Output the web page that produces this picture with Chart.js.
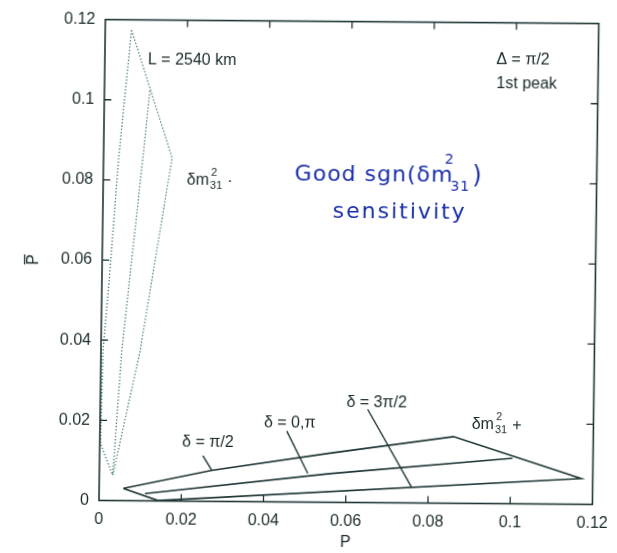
<!DOCTYPE html>
<html>
<head>
<meta charset="utf-8">
<script src="https://cdn.jsdelivr.net/npm/chart.js@4.4.1/dist/chart.umd.min.js"></script>
<style>
  html, body { margin: 0; padding: 0; background: #fff; }
  #wrap { width: 617px; height: 553px; overflow: hidden; background: #fff; }
  /* the printed figure sits slightly askew on the page */
  #plot { transform-origin: 99px 500.5px; transform: matrix(1, 0.008, -0.0133, 1, 0, 0); }
</style>
</head>
<body>
<div id="wrap"><canvas id="plot" width="617" height="553"></canvas></div>
<script>
// ticks shared by both axes
const tickValues = [0, 0.02, 0.04, 0.06, 0.08, 0.1, 0.12];

// dm31^2 > 0 : delta = pi/2 edge, far corner, delta = 3pi/2 edge (closed)
const plusEdgeP    = [0.00586, 0.02735, 0.0560, 0.0860, 0.1172, 0.01433, 0.00586];
const plusEdgePbar = [0.00305, 0.00772, 0.01226, 0.01663, 0.00641, 0.0001, 0.00305];
// dm31^2 > 0 : delta = 0, pi
const plusMidP     = [0.01115, 0.0560, 0.1004];
const plusMidPbar  = [0.00181, 0.00714, 0.01134];

// dm31^2 < 0 : dotted outline (closed)
const minusEdgeP    = [0.0064, 0.01668, 0.00947, 0.00325, 0.00018, 0.00049, 0.00192, 0.00373, 0.0064];
const minusEdgePbar = [0.1174, 0.0856, 0.0371, 0.0063, 0.01414, 0.0370, 0.0574, 0.0862, 0.1174];
// dm31^2 < 0 : inner dotted line
const minusMidP     = [0.01105, 0.00963, 0.00503, 0.00325];
const minusMidPbar  = [0.1023, 0.0863, 0.0371, 0.0063];

// pointer lines from the delta labels
const leadHalfPiP      = [0.02512, 0.02735];
const leadHalfPiPbar   = [0.01139, 0.00772];
const leadZeroPiP      = [0.04544, 0.05068];
const leadZeroPiPbar   = [0.01770, 0.00717];
const leadThreeHalfP   = [0.06505, 0.07591];
const leadThreeHalfPbar = [0.02327, 0.00401];

const ink = '#1f3535';
const dotInk = '#4a7c7c';
const blue = '#1b2fa8';

function pts(xs, ys) {
  return xs.map((x, i) => ({ x: x, y: ys[i] }));
}

function solid(xs, ys, w) {
  return { data: pts(xs, ys), showLine: true, borderColor: ink, borderWidth: w || 1.6,
           pointRadius: 0, tension: 0, fill: false };
}

function dotted(xs, ys) {
  return { data: pts(xs, ys), showLine: true, borderColor: dotInk, borderWidth: 1.3,
           borderDash: [1.4, 1.9], pointRadius: 0, tension: 0, fill: false };
}

// text placed in data coordinates
const notes = [
  { text: 'L = 2540 km', x: 0.01046, y: 0.1101 },
  { text: '\u0394 = \u03c0/2', x: 0.0952, y: 0.1108 },
  { text: '1st peak', x: 0.0953, y: 0.1049 },
  { text: '\u03b4 = \u03c0/2', x: 0.02629, y: 0.01461, align: 'center' },
  { text: '\u03b4 = 0,\u03c0', x: 0.04614, y: 0.01967, align: 'center' },
  { text: '\u03b4 = 3\u03c0/2', x: 0.06722, y: 0.02501, align: 'center' }
];
const massLabels = [
  { sign: '\u00b7', x: 0.02032, y: 0.0802 },
  { sign: '+', x: 0.0904, y: 0.0198 }
];

const font = '16px "Liberation Sans", Arial, sans-serif';
const smallFont = '11px "Liberation Sans", Arial, sans-serif';

function fmt(v) {
  return String(Number(v.toFixed(2)));
}

const frame = {
  id: 'frame',
  beforeDraw(chart) {
    const c = chart.ctx;
    c.save();
    c.fillStyle = '#fff';
    c.fillRect(0, 0, chart.width, chart.height);
    c.restore();
  },
  afterDatasetsDraw(chart) {
    const c = chart.ctx;
    const a = chart.chartArea;
    const xs = chart.scales.x, ys = chart.scales.y;
    c.save();
    c.strokeStyle = ink;
    c.lineWidth = 1.6;
    c.strokeRect(a.left, a.top, a.right - a.left, a.bottom - a.top);

    // inward ticks on all four sides
    c.lineWidth = 1.3;
    c.beginPath();
    tickValues.slice(1, -1).forEach(v => {
      const px = xs.getPixelForValue(v);
      c.moveTo(px, a.bottom); c.lineTo(px, a.bottom - 7);
      c.moveTo(px, a.top); c.lineTo(px, a.top + 7);
      const py = ys.getPixelForValue(v);
      c.moveTo(a.left, py); c.lineTo(a.left + 7, py);
      c.moveTo(a.right, py); c.lineTo(a.right - 7, py);
    });
    c.stroke();

    // axis titles: P along x, P-bar along y
    c.fillStyle = '#1a2a2a';
    c.font = font;
    c.textAlign = 'center';
    c.textBaseline = 'middle';
    c.fillText('P', (a.left + a.right) / 2, a.bottom + 40);
    c.save();
    c.translate(31, (a.top + a.bottom) / 2);
    c.rotate(-Math.PI / 2);
    c.fillText('P', 0, 0);
    c.lineWidth = 1.3;
    c.strokeStyle = '#1a2a2a';
    c.beginPath();
    c.moveTo(-5, -9.5);
    c.lineTo(5, -9.5);
    c.stroke();
    c.restore();

    // annotations
    notes.forEach(n => {
      c.textAlign = n.align || 'left';
      c.fillText(n.text, xs.getPixelForValue(n.x), ys.getPixelForValue(n.y));
    });

    // delta m^2_31 labels with stacked super/subscript
    massLabels.forEach(m => {
      let px = xs.getPixelForValue(m.x);
      const py = ys.getPixelForValue(m.y);
      c.textAlign = 'left';
      c.font = font;
      c.fillText('\u03b4m', px, py);
      px += c.measureText('\u03b4m').width + 1;
      c.font = smallFont;
      c.fillText('2', px + 1, py - 7);
      c.fillText('31', px, py + 6);
      px += c.measureText('31').width + 5;
      c.font = font;
      c.fillText(m.sign, px, py + 1);
    });

    // hand-written remark
    c.fillStyle = blue;
    c.textAlign = 'left';
    c.font = '22px "DejaVu Sans", sans-serif';
    c.letterSpacing = '1px';
    let hx = xs.getPixelForValue(0.04654);
    const hy = ys.getPixelForValue(0.0816);
    c.fillText('Good sgn(\u03b4m', hx, hy);
    hx += c.measureText('Good sgn(\u03b4m').width;
    c.font = '14px "DejaVu Sans", sans-serif';
    c.fillText('2', hx - 9, hy - 16);
    c.fillText('31', hx - 3, hy + 11);
    hx += c.measureText('31').width - 1;
    c.font = '24px "DejaVu Sans", sans-serif';
    c.fillText(')', hx, hy);
    c.letterSpacing = '2px';
    c.font = '22px "DejaVu Sans", sans-serif';
    c.fillText('sensitivity', xs.getPixelForValue(0.0559), ys.getPixelForValue(0.0724));
    c.restore();
  }
};

const axis = (pad) => ({
  type: 'linear',
  min: 0,
  max: 0.12,
  grid: { display: false, drawTicks: false },
  border: { display: false },
  afterBuildTicks(s) { s.ticks = tickValues.map(v => ({ value: v })); },
  ticks: {
    padding: pad,
    color: '#1a2a2a',
    font: { family: '"Liberation Sans", Arial, sans-serif', size: 16 },
    callback: v => fmt(v),
    maxRotation: 0,
    autoSkip: false
  }
});

const xAxis = axis(9);
xAxis.afterFit = s => { s.height = 52.5; };
const yAxis = axis(10);
yAxis.afterFit = s => { s.width = 99; };

new Chart(document.getElementById('plot'), {
  type: 'scatter',
  data: {
    datasets: [
      dotted(minusEdgeP, minusEdgePbar),
      dotted(minusMidP, minusMidPbar),
      solid(plusEdgeP, plusEdgePbar),
      solid(plusMidP, plusMidPbar),
      solid(leadHalfPiP, leadHalfPiPbar, 1.4),
      solid(leadZeroPiP, leadZeroPiPbar, 1.4),
      solid(leadThreeHalfP, leadThreeHalfPbar, 1.4)
    ]
  },
  options: {
    responsive: false,
    animation: false,
    devicePixelRatio: 1,
    layout: { padding: { left: 0, top: 12.5, right: 24, bottom: 0 } },
    plugins: { legend: { display: false }, tooltip: { enabled: false } },
    scales: { x: xAxis, y: yAxis }
  },
  plugins: [frame]
});
</script>
</body>
</html>
